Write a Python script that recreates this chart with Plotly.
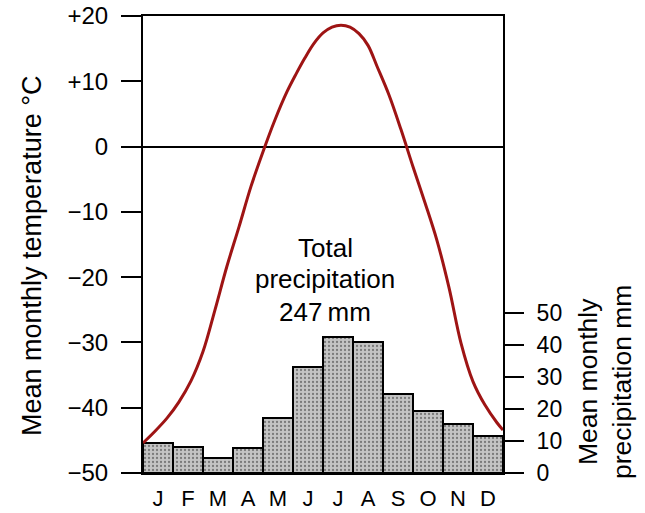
import plotly.graph_objects as go

months = ["J", "F", "M", "A", "M", "J", "J", "A", "S", "O", "N", "D"]
month_pos = [0.5, 1.5, 2.5, 3.5, 4.5, 5.5, 6.5, 7.5, 8.5, 9.5, 10.5, 11.5]
precip_mm = [9.4, 8.0, 4.7, 7.8, 17.2, 33.1, 42.4, 40.8, 24.8, 19.5, 15.3, 11.6]

# temperature curve (x in months from start of January)
curve_x = [0.0, 0.4, 0.8, 1.2, 1.6, 2.0, 2.4, 2.8, 3.2, 3.6, 4.0, 4.4, 4.8, 5.1, 5.4,
           5.7, 6.0, 6.3, 6.6, 6.9, 7.2, 7.5, 7.8, 8.2, 8.6, 9.0, 9.4, 9.8, 10.2, 10.6,
           11.0, 11.4, 11.8, 12.0]
curve_temp = [-45.4, -43.6, -41.6, -39.1, -35.9, -31.4, -25.0, -18.3, -12.3, -6.1, -0.8,
              4.1, 8.4, 11.1, 13.6, 15.8, 17.4, 18.3, 18.6, 18.3, 17.3, 15.5, 12.3, 7.9,
              2.6, -3.1, -8.6, -14.4, -21.6, -30.1, -36.0, -39.6, -42.3, -43.4]

temp_ticks = [20, 10, 0, -10, -20, -30, -40, -50]
temp_labels = ["+20", "+10", "0", "\u221210", "\u221220", "\u221230", "\u221240", "\u221250"]
precip_ticks = [0, 10, 20, 30, 40, 50]
precip_labels = ["0", "10", "20", "30", "40", "50"]

FONT = "Liberation Sans, Arial, sans-serif"

fig = go.Figure()
fig.add_trace(go.Bar(
    x=month_pos, y=precip_mm, width=1.0, yaxis="y",
    marker=dict(color="#c4c4c4", line=dict(color="black", width=2),
                pattern=dict(shape=".", fgcolor="#7a7a7a", bgcolor="#c4c4c4",
                             size=4, solidity=0.25, fillmode="replace")),
    showlegend=False, hoverinfo="skip"))
fig.add_trace(go.Scatter(
    x=curve_x, y=curve_temp, yaxis="y2", mode="lines",
    line=dict(color="#9e1414", width=3, shape="spline", smoothing=1.0),
    showlegend=False, hoverinfo="skip"))

fig.update_layout(
    width=645, height=513,
    margin=dict(l=143, r=142, t=16, b=40),
    paper_bgcolor="white", plot_bgcolor="white",
    font=dict(family=FONT, color="black"),
    bargap=0,
    xaxis=dict(range=[0, 12], tickvals=month_pos, ticktext=months,
               ticks="", showgrid=False, zeroline=False, automargin=False,
               showline=True, linecolor="black", linewidth=2, mirror=True,
               tickfont=dict(size=22), ticklabelstandoff=5),
    yaxis=dict(range=[0, 142.8], side="right", tickvals=precip_ticks, ticktext=precip_labels,
               ticks="outside", ticklen=19, tickwidth=1.5, tickcolor="black", automargin=False,
               showgrid=False, zeroline=False, showline=True, linecolor="black", linewidth=2,
               tickfont=dict(size=23), ticklabelstandoff=8),
    yaxis2=dict(range=[-50, 20], side="left", overlaying="y", anchor="x",
                tickvals=temp_ticks, ticktext=temp_labels, automargin=False,
                ticks="outside", ticklen=20, tickwidth=1.5, tickcolor="black",
                showgrid=False, zeroline=True, zerolinecolor="black", zerolinewidth=1.5,
                showline=True, linecolor="black", linewidth=2,
                tickfont=dict(size=24), ticklabelstandoff=8),
)

def px_x(px):
    return (px - 143) / 360.0

def px_y(py):
    return (473 - py) / 457.0

annos = [
    dict(text="Mean monthly temperature \u00b0C", x=px_x(32), y=px_y(256), textangle=-90,
         font=dict(size=27)),
    dict(text="Mean monthly<br>precipitation mm", x=px_x(605), y=px_y(382), textangle=-90,
         font=dict(size=26.5)),
    dict(text="Total", x=px_x(325), y=px_y(248), font=dict(size=26)),
    dict(text="precipitation", x=px_x(325), y=px_y(279), font=dict(size=26)),
    dict(text="247\u2009mm", x=px_x(325), y=px_y(312), font=dict(size=26)),
]
for a in annos:
    fig.add_annotation(xref="paper", yref="paper", showarrow=False,
                       xanchor="center", yanchor="middle", **a)

fig.write_html("out.html", config={"displayModeBar": False},
               post_script="document.body.style.margin='0';document.body.style.overflow='hidden';")
